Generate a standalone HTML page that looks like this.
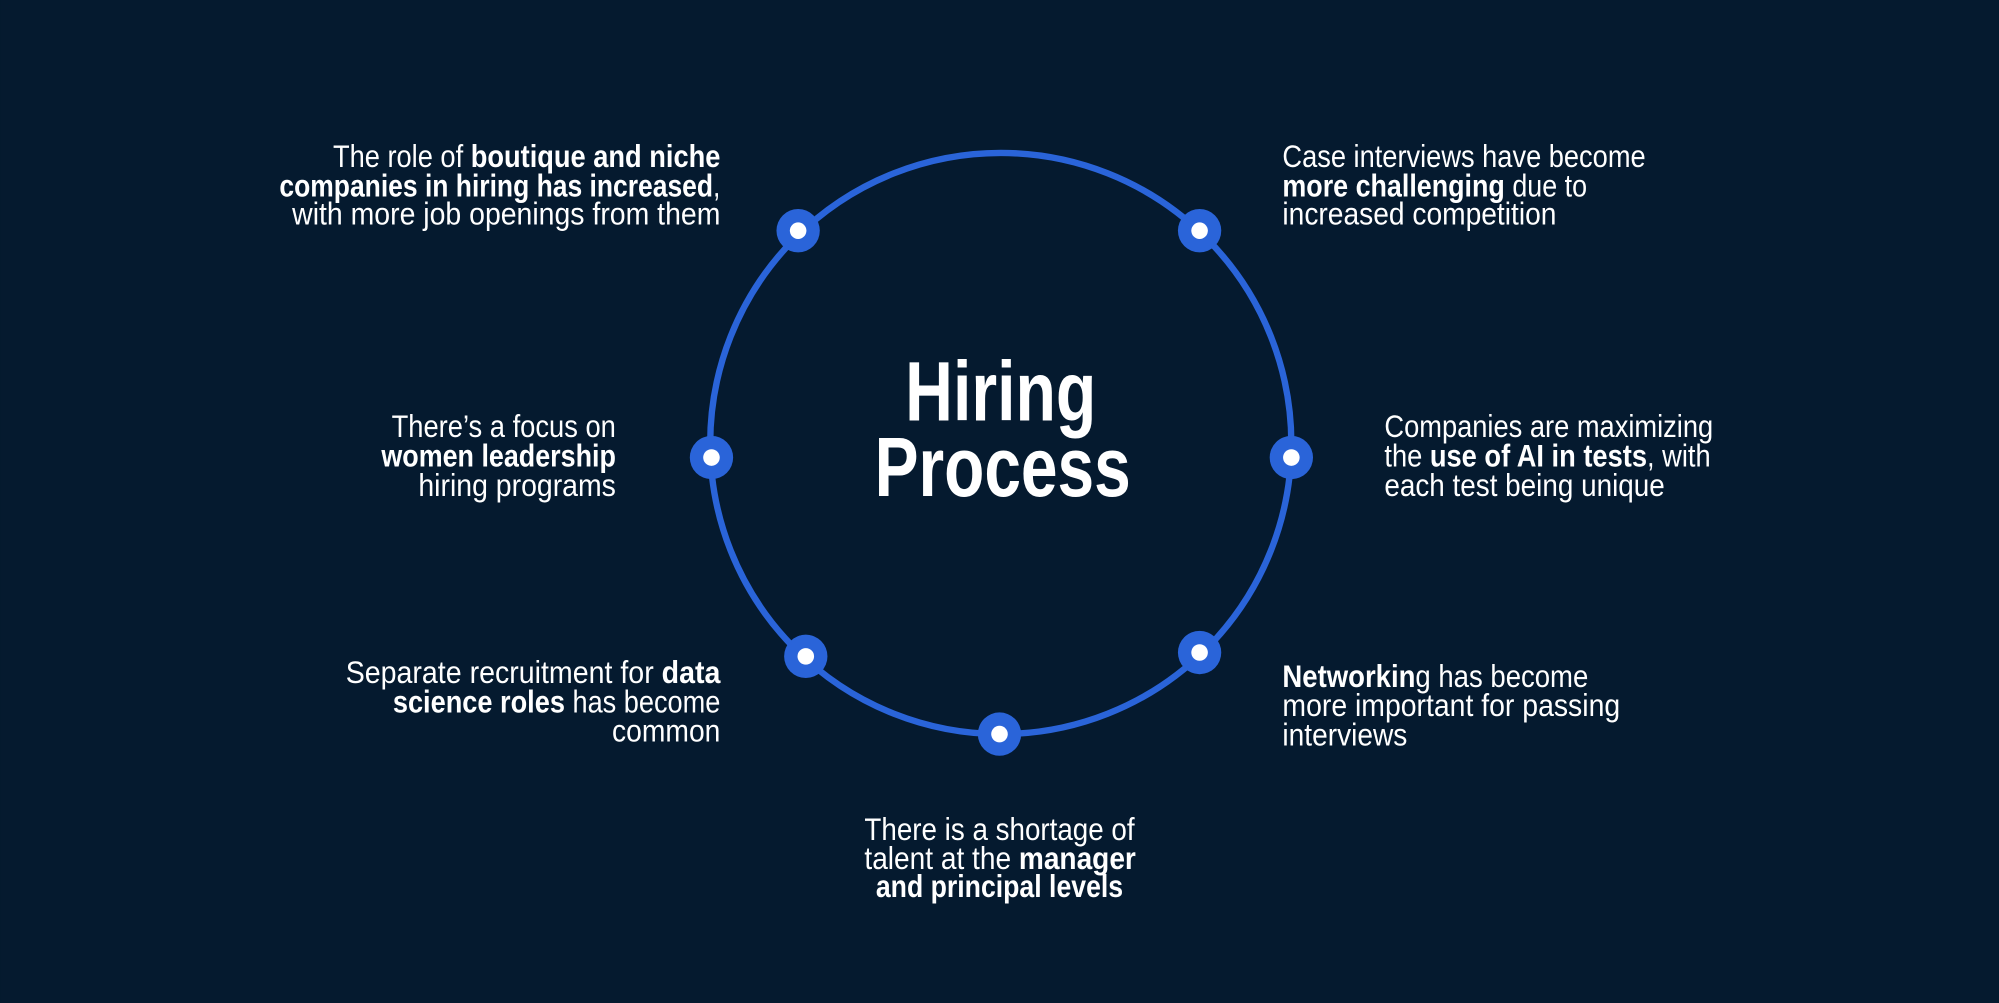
<!DOCTYPE html>
<html><head><meta charset="utf-8"><style>
html,body{margin:0;padding:0;background:#051a2f;}
svg{display:block}
text{font-family:"Liberation Sans Narrow","Liberation Sans",sans-serif;fill:#fff;font-size:25px;}
.b{font-weight:bold}
</style></head><body>
<svg width="1999" height="1003" viewBox="0 0 1568 787" xmlns="http://www.w3.org/2000/svg">
<rect width="1568" height="787" fill="#051a2f"/>
<circle cx="785" cy="348" r="228" fill="none" stroke="#2a64d9" stroke-width="5"/>
<g fill="#2a64d9">
<circle cx="626" cy="181" r="17"/><circle cx="941" cy="181" r="17"/>
<circle cx="558" cy="359" r="17"/><circle cx="1013" cy="359" r="17"/>
<circle cx="632" cy="515" r="17"/><circle cx="941" cy="512" r="17"/>
<circle cx="784" cy="576" r="17"/>
</g>
<g fill="#fff">
<circle cx="626" cy="181" r="6.5"/><circle cx="941" cy="181" r="6.5"/>
<circle cx="558" cy="359" r="6.5"/><circle cx="1013" cy="359" r="6.5"/>
<circle cx="632" cy="515" r="6.5"/><circle cx="941" cy="512" r="6.5"/>
<circle cx="784" cy="576" r="6.5"/>
</g>
<text x="710" y="330" class="b" style="font-size:66px" textLength="150" lengthAdjust="spacingAndGlyphs">Hiring</text>
<text x="686" y="389" class="b" style="font-size:66px" textLength="201" lengthAdjust="spacingAndGlyphs">Process</text>

<text x="261" y="131" textLength="304" lengthAdjust="spacingAndGlyphs">The role of <tspan class="b">boutique and niche</tspan></text>
<text x="219" y="154" textLength="346" lengthAdjust="spacingAndGlyphs"><tspan class="b">companies in hiring has increased</tspan>,</text>
<text x="229" y="176" textLength="336" lengthAdjust="spacingAndGlyphs">with more job openings from them</text>

<text x="1006" y="131" textLength="285" lengthAdjust="spacingAndGlyphs">Case interviews have become</text>
<text x="1006" y="154" textLength="239" lengthAdjust="spacingAndGlyphs"><tspan class="b">more challenging</tspan> due to</text>
<text x="1006" y="176" textLength="215" lengthAdjust="spacingAndGlyphs">increased competition</text>

<text x="307" y="343" textLength="176" lengthAdjust="spacingAndGlyphs">There’s a focus on</text>
<text x="299" y="366" class="b" textLength="184" lengthAdjust="spacingAndGlyphs">women leadership</text>
<text x="328" y="389" textLength="155" lengthAdjust="spacingAndGlyphs">hiring programs</text>

<text x="1086" y="343" textLength="258" lengthAdjust="spacingAndGlyphs">Companies are maximizing</text>
<text x="1086" y="366" textLength="256" lengthAdjust="spacingAndGlyphs">the <tspan class="b">use of AI in tests</tspan>, with</text>
<text x="1086" y="389" textLength="220" lengthAdjust="spacingAndGlyphs">each test being unique</text>

<text x="271" y="536" textLength="294" lengthAdjust="spacingAndGlyphs">Separate recruitment for <tspan class="b">data</tspan></text>
<text x="308" y="559" textLength="257" lengthAdjust="spacingAndGlyphs"><tspan class="b">science roles</tspan> has become</text>
<text x="480" y="582" textLength="85" lengthAdjust="spacingAndGlyphs">common</text>

<text x="1006" y="539" textLength="240" lengthAdjust="spacingAndGlyphs"><tspan class="b">Networkin</tspan>g has become</text>
<text x="1006" y="562" textLength="265" lengthAdjust="spacingAndGlyphs">more important for passing</text>
<text x="1006" y="585" textLength="98" lengthAdjust="spacingAndGlyphs">interviews</text>

<text x="678" y="659" textLength="212" lengthAdjust="spacingAndGlyphs">There is a shortage of</text>
<text x="678" y="682" textLength="213" lengthAdjust="spacingAndGlyphs">talent at the <tspan class="b">manager</tspan></text>
<text x="687" y="704" class="b" textLength="194" lengthAdjust="spacingAndGlyphs">and principal levels</text>
</svg>
</body></html>
